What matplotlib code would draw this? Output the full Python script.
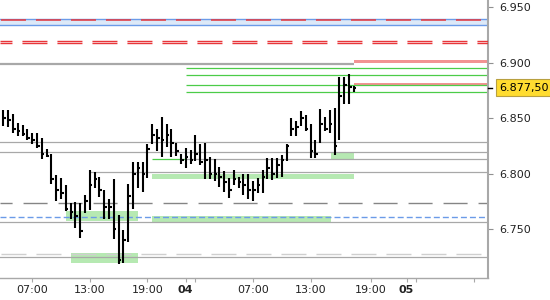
import numpy as np
import matplotlib
matplotlib.use("Agg")
import matplotlib.pyplot as plt
from matplotlib.ticker import FuncFormatter

plt.rcParams['lines.scale_dashes'] = False

# 30 minute bars
highs = [6857, 6857, 6854, 6846, 6844, 6840, 6837, 6837, 6832, 6822,
         6818, 6799, 6796, 6790, 6773, 6774, 6773, 6781, 6803, 6801,
         6797, 6785, 6777, 6795, 6763, 6749, 6791, 6810, 6810, 6810,
         6827, 6845, 6840, 6851, 6845, 6840, 6828, 6818, 6823, 6821,
         6835, 6827, 6828, 6815, 6813, 6806, 6802, 6796, 6803, 6797,
         6800, 6800, 6793, 6796, 6803, 6814, 6814, 6814, 6817, 6827,
         6850, 6847, 6856, 6853, 6845, 6830, 6858, 6851, 6857, 6859,
         6887, 6887, 6890, 6879]
lows = [6843, 6842, 6837, 6834, 6834, 6830, 6827, 6823, 6813, 6815,
        6791, 6775, 6777, 6766, 6759, 6751, 6742, 6764, 6767, 6787,
        6779, 6759, 6759, 6741, 6718, 6719, 6738, 6768, 6787, 6783,
        6796, 6827, 6820, 6815, 6824, 6815, 6816, 6809, 6805, 6809,
        6811, 6808, 6795, 6795, 6793, 6788, 6783, 6778, 6790, 6787,
        6781, 6777, 6775, 6782, 6782, 6795, 6794, 6796, 6797, 6811,
        6834, 6834, 6843, 6838, 6814, 6814, 6828, 6838, 6837, 6817,
        6830, 6863, 6863, 6874]
closes = [6850, 6848, 6840, 6838, 6836, 6832, 6830, 6825, 6818, 6816,
          6795, 6785, 6782, 6768, 6765, 6762, 6748, 6775, 6790, 6795,
          6785, 6770, 6770, 6750, 6722, 6740, 6780, 6800, 6805, 6800,
          6822, 6835, 6832, 6830, 6835, 6828, 6820, 6812, 6815, 6812,
          6818, 6810, 6812, 6800, 6800, 6797, 6792, 6785, 6795, 6792,
          6790, 6785, 6785, 6790, 6797, 6805, 6800, 6808, 6812, 6825,
          6840, 6842, 6850, 6840, 6820, 6818, 6845, 6840, 6845, 6825,
          6870, 6880, 6878, 6877.5]
last_price = 6877.5

# bar index of the axis labels
tick_pos = [6, 18, 30, 38, 40, 52, 64, 76.5, 84, 86, 98]
tick_txt = ["07:00", "13:00", "19:00", "04", "", "07:00", "13:00", "19:00", "05", "", ""]

# horizontal levels
gray_full = [6828.4, 6819.1, 6756.6, 6724.4]
gray_from_18 = [6801.1]
gray_from_38 = [6812.8]
green_levels = [6895.0, 6888.6, 6879.6, 6873.3]
blue_band = (6933.8, 6939.2)
red_top = 6938.3
red_double = [6919.9, 6917.5]
gray_thick = 6899.0
dash_dark = 6773.0
dash_blue = 6760.6
dash_light = 6727.6
pink_bands = [(6899.6, 6902.6), (6880.1, 6882.0)]
# green zones: (low, high, first bar, last bar)
zones = [(6757.3, 6766.1, 13.1, 28.1),
         (6718.9, 6728.2, 14.1, 28.1),
         (6756.6, 6761.6, 31.0, 68.2),
         (6795.3, 6799.6, 31.0, 73.1),
         (6813.1, 6818.8, 68.3, 73.1)]

x = np.arange(len(highs))
xmin, xmax = -0.69, 100.97

fig = plt.figure(figsize=(5.5, 3), dpi=100)
ax = fig.add_axes([0, 1 - 277.7 / 300, 488 / 550, 277.7 / 300])
ax.set_xlim(xmin, xmax)
ax.set_ylim(6706, 6956.6)

# levels
ax.axhspan(*blue_band, color='#dde9f8', lw=0, zorder=1)
for v in blue_band:
    ax.axhline(v, color='#6b9be8', lw=1.0, zorder=2)
ax.axhline(red_top, color='#e8363a', lw=1.1, ls=(24.5, (18, 7.2)), zorder=3)
for v in red_double:
    ax.axhline(v, color='#e8363a', lw=1.0, ls=(9.4, (18, 7.2)), zorder=3)
ax.hlines(gray_thick, xmin, 73.1, color='#a8a8a8', lw=1.6, zorder=2)
for lo, hi in pink_bands:
    ax.fill_between([73.1, xmax], lo, hi, color='#f29393', lw=0, zorder=2)
ax.hlines(green_levels, 38.06, xmax, color='#4ccc48', lw=0.9, zorder=2)
for v in gray_full:
    ax.axhline(v, color='#a8a8a8', lw=0.9, zorder=2)
ax.hlines(gray_from_18, 18.1, xmax, color='#a8a8a8', lw=0.9, zorder=2)
ax.hlines(gray_from_38, 38.06, xmax, color='#a8a8a8', lw=0.9, zorder=2)
ax.hlines(gray_from_38, 31.0, 38.06, color='#4ccc48', lw=0.9, zorder=2)
ax.axhline(dash_dark, color='#858585', lw=1.0, ls=(8.6, (17.3, 7.9)), zorder=2)
ax.axhline(dash_blue, color='#6b9be8', lw=1.0, ls=(0, (4.3, 2.2)), zorder=3)
ax.axhline(dash_light, color='#cfcfcf', lw=1.0, ls=(24.5, (18, 7.2)), zorder=2)
for lo, hi, a, b in zones:
    ax.fill_between([a, b], lo, hi, color='#b6e9b2', lw=0, zorder=1.5)

# ohlc bars
ax.vlines(x, lows, highs, color='black', lw=1.5, zorder=5)
ax.hlines(closes, x, x + 0.55, color='black', lw=1.5, zorder=5)

# axes look
for s in ['top', 'left']:
    ax.spines[s].set_visible(False)
ax.spines['right'].set_color('#a8a8a8')
ax.spines['right'].set_linewidth(1.5)
ax.spines['bottom'].set_color('#a8a8a8')
ax.spines['bottom'].set_linewidth(1.0)

ax.yaxis.tick_right()
ax.set_yticks([6750, 6800, 6850, 6900, 6950])
ax.yaxis.set_major_formatter(FuncFormatter(lambda v, p: "{:,.0f}".format(v).replace(",", ".")))
ax.tick_params(axis='y', length=3.6, width=0.8, color='#909090', pad=4.3,
               labelsize=8, labelcolor='#222222')

ax.set_xticks(tick_pos)
ax.set_xticklabels(tick_txt)
ax.tick_params(axis='x', length=2.9, width=0.8, color='#a8a8a8', pad=2.5,
               labelsize=8, labelcolor='#222222')
for lbl in ax.get_xticklabels():
    if lbl.get_text() in ("04", "05"):
        lbl.set_fontweight('bold')

# last price marker
ax.plot([1.0, 1.008], [last_price, last_price], color='black', lw=1.0,
        transform=ax.get_yaxis_transform(), clip_on=False, zorder=6)
ax.text(1.0 + 11 / 488, last_price, "6.877,50", transform=ax.get_yaxis_transform(),
        va='center', ha='left', fontsize=8, color='black',
        bbox=dict(boxstyle='square,pad=0.3', facecolor='#ffdc30', edgecolor='#b8a040', lw=0.8))

fig.savefig("out.png", dpi=100, facecolor='white')
